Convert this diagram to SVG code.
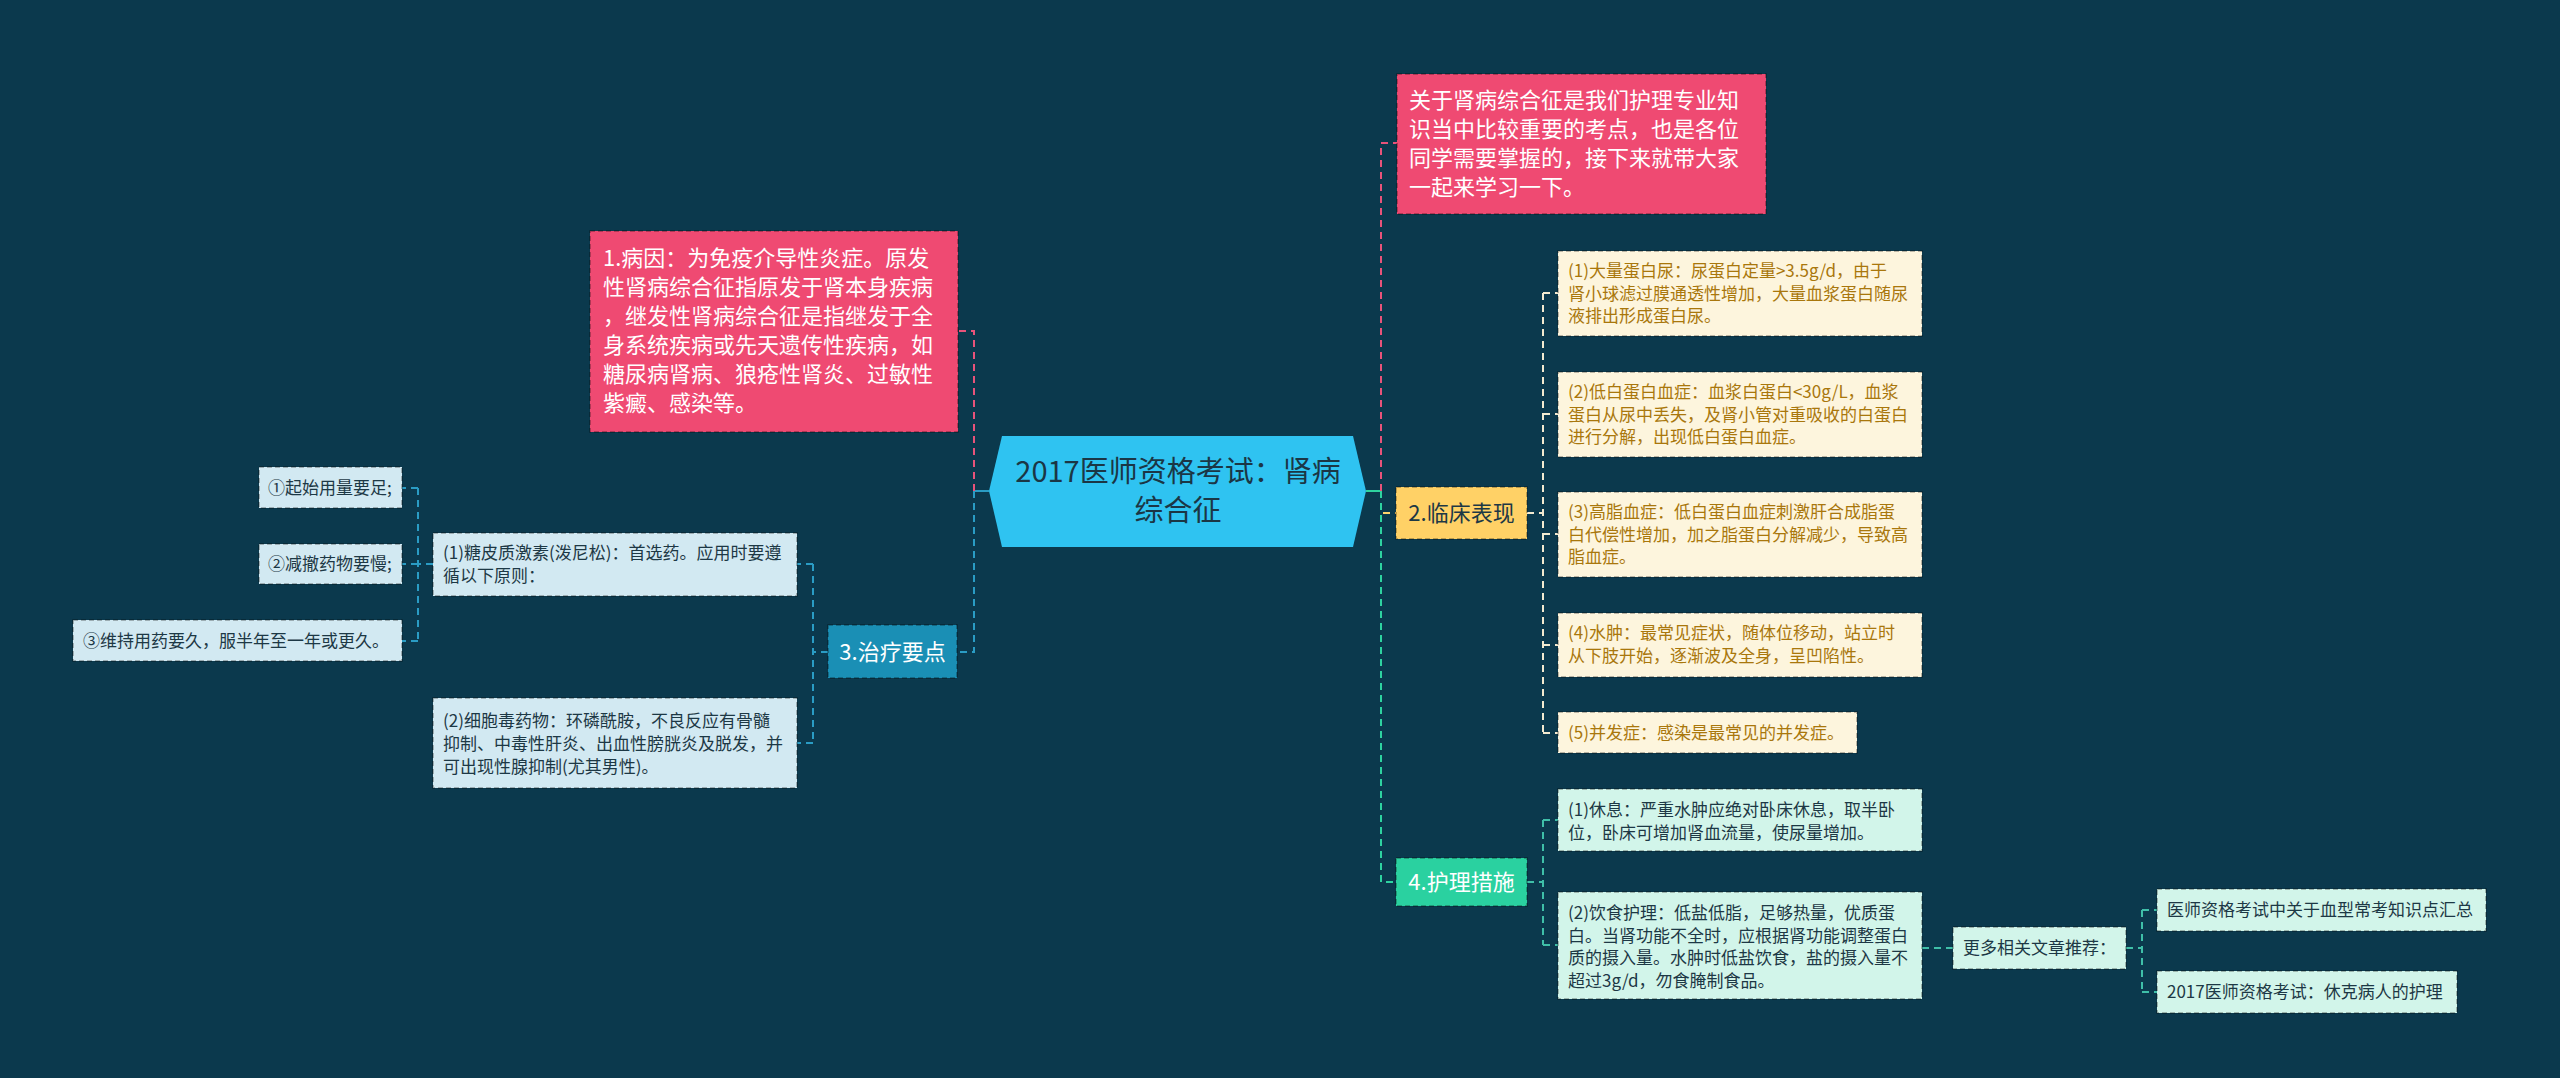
<svg xmlns="http://www.w3.org/2000/svg" width="2560" height="1078" viewBox="0 0 2560 1078">
<style>
text{font-family:"Noto Sans CJK SC","Noto Sans",sans-serif;}
.bd{stroke:#000;stroke-opacity:0.35;stroke-width:1.5;stroke-dasharray:5 3;}
.pink{fill:#ef4a72;}
.cream{fill:#fdf5dd;}
.mint{fill:#d2f5ea;}
.lblue{fill:#d2e9f2;}
.t22w{font-size:22px;fill:#ffffff;}
.t17g{font-size:17px;fill:#a9770c;}
.t17d{font-size:17px;fill:#1d3845;}
.c{fill:none;stroke-width:2;stroke-dasharray:7 5;}
.cp{stroke:#e8537a;}
.cb{stroke:#2a9cc4;}
.cy{stroke:#ffd36b;}
.cw{stroke:#f3ead0;}
.cg{stroke:#2ed3a0;}
.ct{stroke:#3fbfa8;}
</style>
<rect x="0" y="0" width="2560" height="1078" fill="#0b394d"/>
<g id="connectors">
  <path class="c cb" d="M989,491 H974" style="stroke-dasharray:none"/>
  <path class="c cg" d="M1366,491 H1381" style="stroke-dasharray:none"/>
  <path class="c cp" d="M974,491 V331 H958"/>
  <path class="c cb" d="M974,491 V652 H957"/>
  <path class="c cp" d="M1381,491 V143 H1397"/>
  <path class="c cy" d="M1381,491 V513 H1396"/>
  <path class="c cg" d="M1381,491 V882 H1396"/>
  <path class="c cw" d="M1527,513 H1543"/>
  <path class="c cw" d="M1543,293 V733"/>
  <path class="c cw" d="M1543,293 H1558 M1543,414 H1558 M1543,534 H1558 M1543,645 H1558 M1543,733 H1558"/>
  <path class="c ct" d="M1527,882 H1543"/>
  <path class="c ct" d="M1543,820 V945"/>
  <path class="c ct" d="M1543,820 H1558 M1543,945 H1558"/>
  <path class="c ct" d="M1922,948 H1953"/>
  <path class="c ct" d="M2126,948 H2142"/>
  <path class="c ct" d="M2142,910 V992"/>
  <path class="c ct" d="M2142,910 H2157 M2142,992 H2157"/>
  <path class="c cb" d="M828,652 H813"/>
  <path class="c cb" d="M813,564 V743"/>
  <path class="c cb" d="M813,564 H797 M813,743 H797"/>
  <path class="c cb" d="M433,564 H418"/>
  <path class="c cb" d="M418,488 V641"/>
  <path class="c cb" d="M418,488 H402 M418,564 H402 M418,641 H402"/>
</g>
<g id="root">
  <polygon points="989,491 1002,436 1353,436 1366,491 1353,547 1002,547" fill="#2fc3f1"/>
  <text x="1178" y="482" text-anchor="middle" style="font-size:29px;fill:#1b3645">2017医师资格考试：肾病</text>
  <text x="1178" y="521" text-anchor="middle" style="font-size:29px;fill:#1b3645">综合征</text>
</g>
<g id="intro">
  <rect x="1397" y="74" width="369" height="140" class="pink bd"/>
  <text class="t22w"><tspan x="1409" y="108">关于肾病综合征是我们护理专业知</tspan><tspan x="1409" y="137">识当中比较重要的考点，也是各位</tspan><tspan x="1409" y="166">同学需要掌握的，接下来就带大家</tspan><tspan x="1409" y="195">一起来学习一下。</tspan></text>
</g>
<g id="cause">
  <rect x="590" y="231" width="368" height="201" class="pink bd"/>
  <text class="t22w"><tspan x="603" y="266">1.病因：为免疫介导性炎症。原发</tspan><tspan x="603" y="295">性肾病综合征指原发于肾本身疾病</tspan><tspan x="603" y="324">，继发性肾病综合征是指继发于全</tspan><tspan x="603" y="353">身系统疾病或先天遗传性疾病，如</tspan><tspan x="603" y="382">糖尿病肾病、狼疮性肾炎、过敏性</tspan><tspan x="603" y="411">紫癜、感染等。</tspan></text>
</g>
<g id="clinical">
  <rect x="1396" y="487" width="131" height="52" fill="#ffd166" class="bd"/>
  <text x="1461.5" y="521" text-anchor="middle" style="font-size:22px;fill:#1d3845">2.临床表现</text>
</g>
<g id="c1">
  <rect x="1558" y="251" width="364" height="85" class="cream bd"/>
  <text class="t17g"><tspan x="1568" y="277">(1)大量蛋白尿：尿蛋白定量&gt;3.5g/d，由于</tspan><tspan x="1568" y="299.5">肾小球滤过膜通透性增加，大量血浆蛋白随尿</tspan><tspan x="1568" y="322">液排出形成蛋白尿。</tspan></text>
</g>
<g id="c2">
  <rect x="1558" y="372" width="364" height="85" class="cream bd"/>
  <text class="t17g"><tspan x="1568" y="398">(2)低白蛋白血症：血浆白蛋白&lt;30g/L，血浆</tspan><tspan x="1568" y="420.5">蛋白从尿中丢失，及肾小管对重吸收的白蛋白</tspan><tspan x="1568" y="443">进行分解，出现低白蛋白血症。</tspan></text>
</g>
<g id="c3">
  <rect x="1558" y="492" width="364" height="85" class="cream bd"/>
  <text class="t17g"><tspan x="1568" y="518">(3)高脂血症：低白蛋白血症刺激肝合成脂蛋</tspan><tspan x="1568" y="540.5">白代偿性增加，加之脂蛋白分解减少，导致高</tspan><tspan x="1568" y="563">脂血症。</tspan></text>
</g>
<g id="c4">
  <rect x="1558" y="613" width="364" height="64" class="cream bd"/>
  <text class="t17g"><tspan x="1568" y="639">(4)水肿：最常见症状，随体位移动，站立时</tspan><tspan x="1568" y="661.5">从下肢开始，逐渐波及全身，呈凹陷性。</tspan></text>
</g>
<g id="c5">
  <rect x="1558" y="712" width="299" height="41" class="cream bd"/>
  <text x="1568" y="739" class="t17g">(5)并发症：感染是最常见的并发症。</text>
</g>
<g id="nursing">
  <rect x="1396" y="858" width="131" height="48" fill="#2ad1a0" class="bd"/>
  <text x="1461.5" y="890" text-anchor="middle" style="font-size:22px;fill:#ffffff">4.护理措施</text>
</g>
<g id="n1">
  <rect x="1558" y="789" width="364" height="62" class="mint bd"/>
  <text class="t17d"><tspan x="1568" y="816">(1)休息：严重水肿应绝对卧床休息，取半卧</tspan><tspan x="1568" y="838.5">位，卧床可增加肾血流量，使尿量增加。</tspan></text>
</g>
<g id="n2">
  <rect x="1558" y="892" width="364" height="107" class="mint bd"/>
  <text class="t17d"><tspan x="1568" y="919">(2)饮食护理：低盐低脂，足够热量，优质蛋</tspan><tspan x="1568" y="941.5">白。当肾功能不全时，应根据肾功能调整蛋白</tspan><tspan x="1568" y="964">质的摄入量。水肿时低盐饮食，盐的摄入量不</tspan><tspan x="1568" y="986.5">超过3g/d，勿食腌制食品。</tspan></text>
</g>
<g id="more">
  <rect x="1953" y="927" width="173" height="42" class="mint bd"/>
  <text x="1963" y="954" class="t17d">更多相关文章推荐：</text>
</g>
<g id="link1">
  <rect x="2157" y="889" width="329" height="42" class="mint bd"/>
  <text x="2167" y="916" class="t17d">医师资格考试中关于血型常考知识点汇总</text>
</g>
<g id="link2">
  <rect x="2157" y="971" width="300" height="42" class="mint bd"/>
  <text x="2167" y="998" class="t17d">2017医师资格考试：休克病人的护理</text>
</g>
<g id="treatment">
  <rect x="828" y="625" width="129" height="53" fill="#1a8fb5" class="bd"/>
  <text x="892.5" y="660" text-anchor="middle" style="font-size:22px;fill:#ffffff">3.治疗要点</text>
</g>
<g id="t1">
  <rect x="433" y="533" width="364" height="63" class="lblue bd"/>
  <text class="t17d"><tspan x="443" y="559">(1)糖皮质激素(泼尼松)：首选药。应用时要遵</tspan><tspan x="443" y="581.5">循以下原则：</tspan></text>
</g>
<g id="t2">
  <rect x="433" y="698" width="364" height="90" class="lblue bd"/>
  <text class="t17d"><tspan x="443" y="727">(2)细胞毒药物：环磷酰胺，不良反应有骨髓</tspan><tspan x="443" y="750">抑制、中毒性肝炎、出血性膀胱炎及脱发，并</tspan><tspan x="443" y="773">可出现性腺抑制(尤其男性)。</tspan></text>
</g>
<g id="p1">
  <rect x="259" y="467" width="143" height="41" class="lblue bd"/>
  <text x="268" y="494" class="t17d">①起始用量要足;</text>
</g>
<g id="p2">
  <rect x="259" y="544" width="143" height="40" class="lblue bd"/>
  <text x="268" y="570" class="t17d">②减撤药物要慢;</text>
</g>
<g id="p3">
  <rect x="73" y="620" width="329" height="41" class="lblue bd"/>
  <text x="83" y="647" class="t17d">③维持用药要久，服半年至一年或更久。</text>
</g>
</svg>
